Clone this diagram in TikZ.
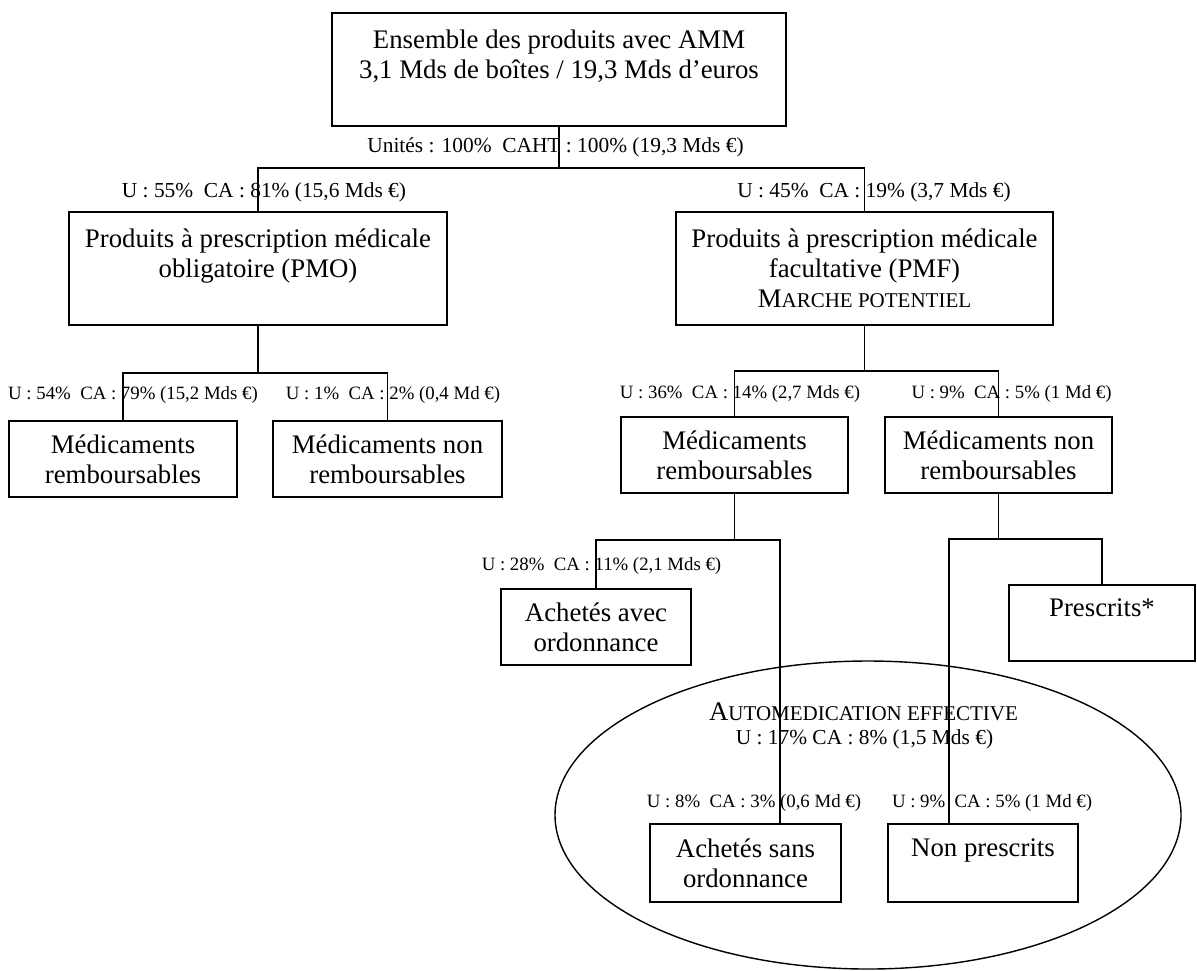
\documentclass[tikz,border=0pt]{standalone}
\usepackage{fontspec}
\setmainfont{Liberation Serif}
\usetikzlibrary{shapes.geometric}
\newcommand\fakesc[2]{#1{\fontsize{10.5}{12}\selectfont #2}}
\begin{document}
\begin{tikzpicture}[x=0.5pt, y=-0.5pt,
  box/.style={draw, line width=0.9pt, align=center, inner sep=0pt,
    font=\fontsize{13.4}{15}\selectfont},
  pct/.style={inner sep=0pt, font=\fontsize{10.7}{12}\selectfont},
  pctsmall/.style={inner sep=0pt, font=\fontsize{9.4}{11}\selectfont},
  link/.style={line width=0.7pt}]
\useasboundingbox (0,0) rectangle (1197,970);

\node[box, minimum width=227pt, minimum height=56.5pt] (amm) at (559,69.5)
  {Ensemble des produits avec AMM\\3,1 Mds de boîtes / 19,3 Mds d’euros\\\mbox{}};
\node[box, minimum width=189pt, minimum height=56.5pt] (pmo) at (258,268.5)
  {Produits à prescription médicale\\obligatoire (PMO)\\\mbox{}};
\node[box, minimum width=188.5pt, minimum height=56.5pt] (pmf) at (864.5,268.5)
  {Produits à prescription médicale\\facultative (PMF)\\\fakesc{M}{ARCHE POTENTIEL}};
\node[box, minimum width=114pt, minimum height=38pt] (pmoRemb) at (123,459)
  {Médicaments\\remboursables};
\node[box, minimum width=114.5pt, minimum height=38pt] (pmoNonRemb) at (387.5,459)
  {Médicaments non\\remboursables};
\node[box, minimum width=113.5pt, minimum height=38pt] (pmfRemb) at (734.5,455)
  {Médicaments\\remboursables};
\node[box, minimum width=113.5pt, minimum height=38pt] (pmfNonRemb) at (998.5,455)
  {Médicaments non\\remboursables};
\node[box, minimum width=95pt, minimum height=38pt] (avecOrd) at (596,627)
  {Achetés avec\\ordonnance};
\node[box, minimum width=93pt, minimum height=38pt] (prescrits) at (1102,623)
  {Prescrits*\\\mbox{}};
\node[draw, ellipse, link, minimum width=313pt, minimum height=154pt] (automed) at (868,815) {};
\node[box, minimum width=95.5pt, minimum height=39pt] (sansOrd) at (745.5,863)
  {Achetés sans\\ordonnance};
\node[box, minimum width=95pt, minimum height=39pt] (nonPrescrits) at (983,863)
  {Non prescrits\\\mbox{}};

\node[pct] (lAmm) at (555.5,147) {Unités : 100\%\ \ CAHT : 100\% (19,3 Mds €)};
\node[pct] (lPmo) at (264,192) {U : 55\%\ \ CA : 81\% (15,6 Mds €)};
\node[pct] (lPmf) at (874,192) {U : 45\%\ \ CA : 19\% (3,7 Mds €)};
\node[pctsmall] (lPmoRemb) at (133,395) {U : 54\%\ \ CA : 79\% (15,2 Mds €)};
\node[pctsmall] (lPmoNonRemb) at (393,395) {U : 1\%\ \ CA : 2\% (0,4 Md €)};
\node[pctsmall] (lPmfRemb) at (740,394) {U : 36\%\ \ CA : 14\% (2,7 Mds €)};
\node[pctsmall] (lPmfNonRemb) at (1011.5,394) {U : 9\%\ \ CA : 5\% (1 Md €)};
\node[pctsmall] (lAvecOrd) at (601.5,566) {U : 28\%\ \ CA : 11\% (2,1 Mds €)};
\node[pct, font=\fontsize{13.4}{15}\selectfont] (lAutomed) at (863.5,712)
  {\fakesc{A}{UTOMEDICATION EFFECTIVE}};
\node[pct] (lAutomedPct) at (864.5,739) {U : 17\% CA : 8\% (1,5 Mds €)};
\node[pctsmall] (lSansOrd) at (754,803) {U : 8\%\ \ CA : 3\% (0,6 Md €)};
\node[pctsmall] (lNonPrescrits) at (992,803) {U : 9\%\ \ CA : 5\% (1 Md €)};

\coordinate (jA) at (559,168);
\coordinate (jB) at (258,373);
\coordinate (jC) at (864.5,371);
\coordinate (jD) at (734.5,540);
\coordinate (jE) at (780,540);
\coordinate (jF) at (998.5,539);
\coordinate (jG) at (949,539);

\draw[link] (amm.south) -- (jA);
\draw[link] (pmo.north) |- (jA) -| (pmf.north);
\draw[link] (pmo.south) -- (jB);
\draw[link] (pmoRemb.north) |- (jB) -| (pmoNonRemb.north);
\draw[link] (pmf.south) -- (jC);
\draw[link] (pmfRemb.north) |- (jC) -| (pmfNonRemb.north);
\draw[link] (pmfRemb.south) -- (jD);
\draw[link] (avecOrd.north) |- (jE) -- (jE |- sansOrd.north);
\draw[link] (pmfNonRemb.south) -- (jF);
\draw[link] (prescrits.north) |- (jG) -- (jG |- nonPrescrits.north);
\end{tikzpicture}
\end{document}
